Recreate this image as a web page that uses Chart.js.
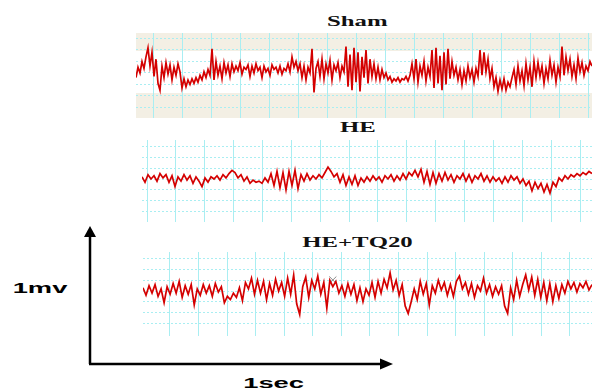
<!DOCTYPE html>
<html><head><meta charset="utf-8">
<script src="https://cdn.jsdelivr.net/npm/chart.js@4.4.1/dist/chart.umd.min.js"></script>
<style>
html,body{margin:0;padding:0;background:#fff;width:592px;height:390px;overflow:hidden;position:relative}
canvas{position:absolute;display:block}
.t{position:absolute;width:200px;text-align:center;font-family:"Liberation Serif","Times New Roman",serif;font-weight:bold;font-size:15px;line-height:15px;color:#111;white-space:nowrap}
.t span{display:inline-block;transform:scaleX(1.65)}
.l{position:absolute;width:120px;text-align:center;font-family:"Liberation Sans",Arial,sans-serif;font-weight:bold;font-size:14px;line-height:14px;color:#000;white-space:nowrap}
.l span{display:inline-block;transform:scaleX(1.95)}
svg{position:absolute;left:0;top:0}
</style></head><body>
<canvas id="c1" width="456" height="85" style="left:136px;top:33px"></canvas>
<canvas id="c2" width="450" height="82" style="left:142px;top:140px"></canvas>
<canvas id="c3" width="449" height="84" style="left:143px;top:252px"></canvas>
<div class="t" id="t1" style="left:257px;top:14px"><span></span></div>
<div class="t" id="t2" style="left:258px;top:120px"><span></span></div>
<div class="t" id="t3" style="left:257px;top:235px"><span></span></div>
<div class="l" id="lv" style="left:-20px;top:281px"><span></span></div>
<div class="l" id="lt" style="left:214px;top:376px"><span></span></div>
<svg width="592" height="390">
  <line x1="90" y1="234" x2="90" y2="364" stroke="#000" stroke-width="2.5"/>
  <polygon points="84,237 90,226 96,237" fill="#000"/>
  <line x1="89" y1="364" x2="382" y2="364" stroke="#000" stroke-width="2.5"/>
  <polygon points="380,358.5 393,364 380,369.5" fill="#000"/>
</svg>
<script>
// ---- data (values in grid units, 1 grid division per unit) ----
const panelTitles = ["Sham", "HE", "HE+TQ20"];
const amplitudeLabel = "1mv";
const timeLabel = "1sec";

const shamValues = [-0.4,0.5,0.0,1.0,0.4,1.4,2.2,0.6,
1.8,-0.3,1.2,-0.9,-1.5,
0.6,-0.4,0.9,-0.1,0.7,-0.6,0.5,-0.2,0.8,0.1,
-1.3,-0.5,-1.2,-0.6,-1.0,-0.5,-0.9,-0.4,-0.8,-0.2,-0.6,0.1,-0.4,0.3,
-0.2,2.1,-0.6,
1.0,-0.2,0.6,-0.5,0.9,0.0,0.7,-0.3,
0.8,0.1,0.6,0.2,0.9,-0.1,0.5,0.3,0.7,-0.3,0.6,0.0,0.8,0.2,0.5,-0.4,0.6,0.1,0.4,-0.2,0.7,0.3,0.5,0.0,0.6,-0.1,0.4,0.2,0.8,0.1,
1.4,0.5,1.0,0.2,
0.8,-0.4,0.6,-0.6,0.5,0.0,
2.1,-1.7,0.4,
1.0,-0.3,1.2,-0.5,0.8,0.0,1.1,-0.6,0.7,0.2,0.9,-0.4,0.6,0.1,
2.3,-1.2,1.6,-1.5,2.2,-0.8,1.8,-1.6,1.4,-0.4,2.0,-0.9,1.2,
-0.3,0.8,-0.5,0.5,-0.6,0.3,-0.4,0.0,
-0.6,-0.3,-0.8,-0.5,-0.7,-0.4,-0.8,-0.5,-0.6,-0.3,-0.7,-0.2,
0.8,-0.5,1.2,-0.8,0.6,-0.2,1.0,-0.7,0.5,-0.3,
2.0,-1.3,2.2,-0.9,1.5,-1.5,1.8,-1.0,2.1,-0.5,1.0,-0.2,
0.5,-0.6,0.3,-1.0,0.2,-0.7,0.6,-0.4,0.3,-0.8,0.4,-0.3,
2.0,-0.2,1.8,0.1,1.2,-0.5,
0.4,-1.2,-0.4,-1.6,-0.6,-1.4,-0.5,-1.5,-0.8,-1.2,-0.4,
0.3,-1.0,0.6,-0.7,0.2,-1.1,0.8,-0.6,0.5,-1.2,1.0,-0.4,0.9,-0.3,0.6,-0.9,0.4,-0.5,1.1,-0.2,0.7,-0.8,0.5,-0.3,
2.3,-0.2,1.4,
0.2,1.2,-0.3,0.7,-0.5,1.3,0.1,0.9,-0.2,0.6,0.2,1.0,0.6];

const heValues = [0.2,-0.3,0.4,0.0,0.3,-0.2,0.5,0.1,0.4,-0.3,0.3,-0.7,0.2,-0.2,0.4,-0.1,0.3,-0.4,0.2,-0.2,
-0.7,0.1,-0.3,0.2,0.0,0.3,-0.1,0.4,0.1,0.5,0.8,0.6,0.1,0.4,-0.2,0.2,-0.4,-0.1,-0.3,-0.2,
-0.4,0.1,-0.3,0.5,-0.6,0.7,-0.8,0.6,-1.0,0.7,-0.6,0.8,-0.9,0.4,-0.2,0.5,-0.1,0.3,0.0,0.4,
0.1,0.6,1.1,0.7,0.2,0.5,-0.3,0.4,-0.6,0.2,-0.5,0.3,-0.6,0.1,-0.3,0.2,-0.2,0.3,-0.1,0.2,
-0.3,0.3,0.0,0.4,-0.2,0.3,-0.1,0.5,0.0,0.6,0.3,0.8,0.2,0.9,-0.3,0.7,-0.5,0.6,-0.4,0.5,
-0.2,0.6,-0.1,0.4,-0.3,0.3,0.0,0.5,-0.2,0.4,-0.3,0.3,0.0,0.5,-0.2,0.3,-0.3,0.2,-0.2,0.1,
-0.4,0.2,-0.3,0.3,-0.1,0.2,-0.4,0.0,-0.6,-0.2,-1.1,-0.3,-0.9,-0.4,-1.2,-0.5,-1.3,-0.3,-0.7,0.1,
-0.2,0.3,0.0,0.4,0.2,0.5,0.3,0.6,0.4,0.7,0.5];

const heTq20Values = [0.3,-0.4,0.5,-0.2,0.6,-0.5,0.2,-1.1,0.4,-0.3,0.7,-0.2,0.9,-0.6,0.5,-0.3,0.6,-1.3,0.2,-0.4,
0.6,-0.2,0.5,-0.5,0.7,-0.1,0.4,-1.1,-0.5,-0.8,-0.2,-0.6,0.3,-0.9,0.8,0.2,1.2,-0.3,1.0,-0.2,
0.9,-0.8,0.7,-0.4,1.1,0.0,0.8,-0.5,1.2,-0.3,1.5,-1.2,-2.2,0.4,1.3,-0.6,1.0,0.2,1.4,-0.3,
0.8,-1.6,1.0,0.4,0.9,-0.2,0.5,-0.5,0.7,-0.3,0.6,-0.9,0.3,-1.0,0.2,-0.4,0.8,-0.6,0.9,-0.2,
1.1,0.3,1.7,0.1,1.0,-0.4,0.6,-1.4,-2.1,-1.0,0.2,-0.8,0.9,-0.3,0.7,-1.3,0.5,-0.2,1.0,0.1,
0.8,-0.4,0.6,-0.5,0.9,1.4,0.2,0.8,-0.3,0.7,-0.6,0.5,0.0,1.2,-0.2,0.6,-0.5,0.4,-0.3,0.5,
-1.4,-2.1,0.3,-0.8,1.0,-0.5,0.6,1.5,0.1,1.3,-0.4,1.1,-0.6,0.8,-0.9,0.7,-1.0,0.5,-0.7,0.6,
-0.2,0.9,0.2,0.8,-0.1,0.7,0.3,0.9,0.1,0.6];

// small gray cross marker seen on the HE+TQ20 trace (fraction of trace length, grid units)
const tq20MarkerX = [63];
const tq20MarkerY = [1.03];

// ---- drawing ----
document.querySelector('#t1 span').textContent = panelTitles[0];
document.querySelector('#t2 span').textContent = panelTitles[1];
document.querySelector('#t3 span').textContent = panelTitles[2];
document.querySelector('#lv span').textContent = amplitudeLabel;
document.querySelector('#lt span').textContent = timeLabel;

const GRID = '#A9EEF2';
const TRACE = '#D40000';

const bandPlugin = {
  id: 'band',
  beforeDraw(chart, args, opts) {
    if (!opts || !opts.enabled) return;
    const {ctx, chartArea: a, scales: {y}} = chart;
    ctx.save();
    ctx.fillStyle = opts.color;
    ctx.fillRect(a.left, a.top, a.right - a.left, a.bottom - a.top);
    const t = y.getPixelForValue(opts.hi), b = y.getPixelForValue(opts.lo);
    ctx.fillStyle = '#ffffff';
    ctx.fillRect(a.left, t, a.right - a.left, b - t);
    ctx.restore();
  }
};

// gridStartPx / gridStepPx: vertical grid positions in canvas pixels (styling)
function makePanel(id, values, widthPx, traceStartPx, gridStartPx, gridStepPx, yMin, yMax, band, extra) {
  const n = values.length - 1;
  const pxPer = (widthPx - traceStartPx) / n;
  const xMin = -traceStartPx / pxPer, xMax = n;
  const datasets = [{
    data: values.map((v, i) => ({x: i, y: v})),
    borderColor: TRACE, borderWidth: 1.7, pointRadius: 0, tension: 0, fill: false
  }];
  if (extra) datasets.push(extra);
  new Chart(document.getElementById(id), {
    type: 'line',
    data: {datasets},
    options: {
      responsive: false, animation: false, events: [],
      layout: {padding: 0, autoPadding: false},
      plugins: {legend: {display: false}, tooltip: {enabled: false},
        band: band || {enabled: false}},
      scales: {
        x: {type: 'linear', min: xMin, max: xMax,
          afterBuildTicks(s) {
            const t = [];
            for (let p = gridStartPx; p <= widthPx; p += gridStepPx) t.push({value: xMin + p / pxPer});
            s.ticks = t;
          },
          ticks: {display: false},
          grid: {color: GRID, lineWidth: 1, drawTicks: false},
          border: {display: false}},
        y: {type: 'linear', min: yMin, max: yMax,
          afterBuildTicks(s) {
            const t = [];
            for (let v = -3; v <= 3; v++) t.push({value: v});
            s.ticks = t;
          },
          ticks: {display: false},
          grid: {color: GRID, lineWidth: 1, drawTicks: false},
          border: {display: false, dash: [2, 2]}}
      }
    },
    plugins: [bandPlugin]
  });
}

makePanel('c1', shamValues, 456, 0, 17, 29.0, -3.913, 3.478,
  {enabled: true, color: '#F3EFE4', hi: 1.91, lo: -1.74});
makePanel('c2', heValues, 450, 0, 5, 28.87, -3.98, 3.611, null);
makePanel('c3', heTq20Values, 449, 0, 27, 28.57, -4.217, 3.655, null, {
  data: tq20MarkerX.map((x, i) => ({x, y: tq20MarkerY[i]})),
  showLine: false, pointStyle: 'crossRot', pointRadius: 5,
  borderColor: '#8a8a8a', backgroundColor: '#8a8a8a', pointBorderWidth: 1
});
</script>
</body></html>
